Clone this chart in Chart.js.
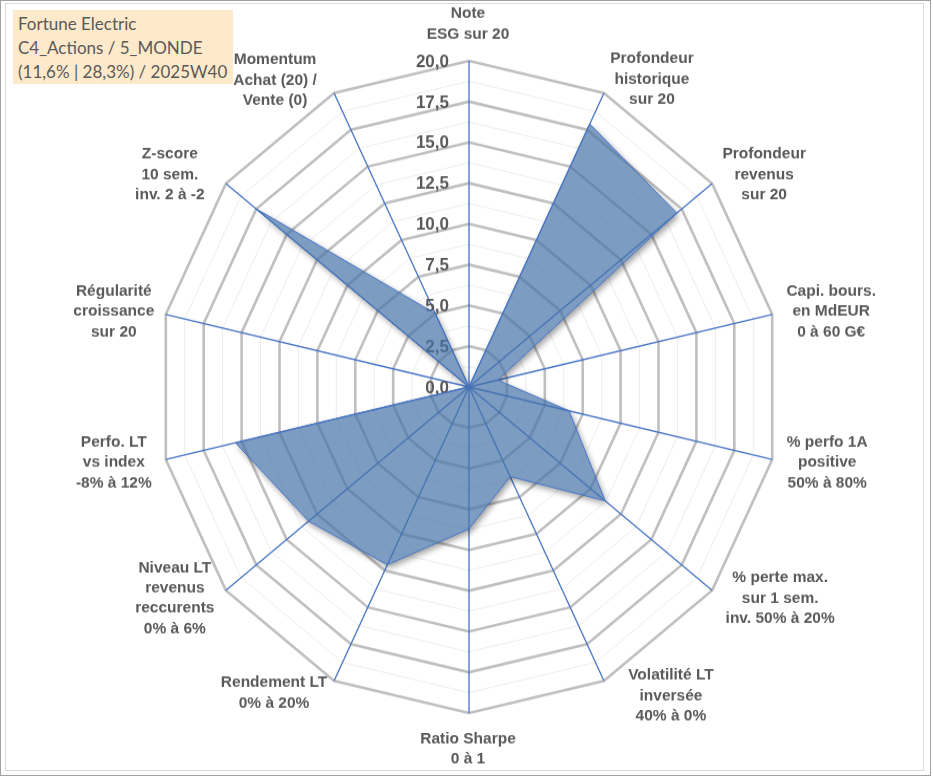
<!DOCTYPE html>
<html>
<head>
<meta charset="utf-8">
<script src="https://cdn.jsdelivr.net/npm/chart.js@4.4.1/dist/chart.umd.min.js"></script>
<style>
  body { margin: 0; background: #fff; }
  #wrap { position: relative; width: 933px; height: 776px; overflow: hidden; }
  #stretch { position: absolute; left: 0; top: 0; width: 933px; height: 740px; transform: scaleY(1.0486); transform-origin: 0 0; }
  .frame { position: absolute; pointer-events: none; box-sizing: border-box; }
  #outer { left: 0; top: 0; width: 931px; height: 776px; border: 1px solid #a0a0a0; }
  #inner { left: 5px; top: 3px; width: 919px; height: 768px; border: 1px solid #dadada; }
  #title { position: absolute; left: 13px; top: 10px; width: 220px; height: 74px; background: #feeacb;
           color: #595959; font: 17px Lato, "Open Sans", sans-serif; padding: 2px 0 0 5px; box-sizing: border-box; }
  #title div { line-height: 24px; white-space: nowrap; }
</style>
</head>
<body>
<div id="wrap">
  <div id="stretch"><canvas id="radar" width="933" height="740"></canvas></div>
  <div class="frame" id="outer"></div>
  <div class="frame" id="inner"></div>
  <div id="title">
    <div>Fortune Electric</div>
    <div>C4_Actions / 5_MONDE</div>
    <div>(11,6% | 28,3%) / 2025W40</div>
  </div>
</div>
<script>
// Axis names (one entry per spoke, split on lines)
const categories = [
  ["Note", "ESG sur 20"],
  ["Profondeur", "historique", "sur 20"],
  ["Profondeur", "revenus", "sur 20"],
  ["Capi. bours.", "en MdEUR", "0 à 60 G€"],
  ["% perfo 1A", "positive", "50% à 80%"],
  ["% perte max.", "sur 1 sem.", "inv. 50% à 20%"],
  ["Volatilité LT", "inversée", "40% à 0%"],
  ["Ratio Sharpe", "0 à 1"],
  ["Rendement LT", "0% à 20%"],
  ["Niveau LT", "revenus", "reccurents", "0% à 6%"],
  ["Perfo. LT", "vs index", "-8% à 12%"],
  ["Régularité", "croissance", "sur 20"],
  ["Z-score", "10 sem.", "inv. 2 à -2"],
  ["Momentum", "Achat (20) /", "Vente (0)"]
];

// Scores out of 20
const scores = [0, 17.9, 17.1, 1.9, 6.6, 11.2, 6.1, 8.7, 12.1, 13.2, 15.4, 0, 17.6, 5.0];

// Scale range
const scaleMin = 0;
const scaleMax = 20;
const majorStep = 2.5;

// Label placement, offset of label centre from the spoke end (px, before stretch)
const labelOffsets = [
  [-1, -37], [48, -14], [52, -9], [59, -3], [55, 3], [68, 8], [67, 15],
  [-1, 36], [-60, 12], [-51, 8], [-52, 3], [-52, -3], [-56, -9], [-59, -13]
];
const STRETCH = 1.0486;

const fmt = v => v.toFixed(1).replace(".", ",");
const isMajor = v => Math.abs(v % majorStep) < 1e-6;

const textPlugin = {
  id: "radarText",
  beforeDatasetsDraw(chart) {
    const s = chart.scales.r;
    const ctx = chart.ctx;
    ctx.save();
    ctx.fillStyle = "#595959";
    ctx.font = "bold 17px 'Liberation Sans', Arial, sans-serif";
    ctx.textAlign = "right";
    ctx.textBaseline = "middle";
    s.ticks.forEach(t => {
      if (isMajor(t.value)) {
        ctx.fillText(fmt(t.value), s.xCenter - 20, s.yCenter - s.getDistanceFromCenterForValue(t.value) + 1);
      }
    });
    ctx.restore();

    // soft shadow outside the filled area only
    const pts = chart.getDatasetMeta(0).data;
    ctx.save();
    ctx.beginPath();
    ctx.rect(0, 0, chart.width, chart.height);
    pts.forEach((p, i) => (i ? ctx.lineTo(p.x, p.y) : ctx.moveTo(p.x, p.y)));
    ctx.closePath();
    ctx.clip("evenodd");
    ctx.beginPath();
    pts.forEach((p, i) => (i ? ctx.lineTo(p.x, p.y) : ctx.moveTo(p.x, p.y)));
    ctx.closePath();
    ctx.shadowColor = "rgba(0,0,0,0.4)";
    ctx.shadowBlur = 6;
    ctx.shadowOffsetX = 2;
    ctx.shadowOffsetY = 3;
    ctx.fillStyle = "#fff";
    ctx.fill();
    ctx.restore();
  },
  afterDraw(chart) {
    const s = chart.scales.r;
    const ctx = chart.ctx;
    ctx.save();
    ctx.fillStyle = "#595959";
    ctx.font = "bold 15.5px 'Liberation Sans', Arial, sans-serif";
    ctx.textAlign = "center";
    ctx.textBaseline = "middle";
    const lh = 20.3 / STRETCH;
    categories.forEach((lines, i) => {
      const p = s.getPointPosition(i, s.drawingArea);
      const cx = p.x + labelOffsets[i][0];
      const cy = p.y + labelOffsets[i][1] / STRETCH;
      lines.forEach((ln, k) => {
        ctx.fillText(ln, cx, cy - (lines.length - 1) * lh / 2 + k * lh);
      });
    });
    ctx.restore();
  }
};

new Chart(document.getElementById("radar"), {
  type: "radar",
  data: {
    labels: categories,
    datasets: [{
      data: scores,
      fill: true,
      backgroundColor: "rgba(68,114,168,0.7)",
      borderColor: "#4472c4",
      borderWidth: 1,
      pointRadius: 0,
      pointHoverRadius: 0
    }]
  },
  options: {
    responsive: false,
    animation: false,
    devicePixelRatio: 1,
    layout: { padding: { left: 158, right: 153, top: 58, bottom: 60 } },
    plugins: { legend: { display: false }, tooltip: { enabled: false } },
    scales: {
      r: {
        min: scaleMin,
        max: scaleMax,
        ticks: { stepSize: majorStep / 2, display: false },
        pointLabels: { display: false },
        angleLines: { color: "#4472c4", lineWidth: 1.3 },
        grid: {
          circular: false,
          color: c => (isMajor(c.tick.value) ? "#bfbfbf" : "#ececec"),
          lineWidth: c => (isMajor(c.tick.value) ? 2.6 : 1)
        }
      }
    }
  },
  plugins: [textPlugin]
});
</script>
</body>
</html>
